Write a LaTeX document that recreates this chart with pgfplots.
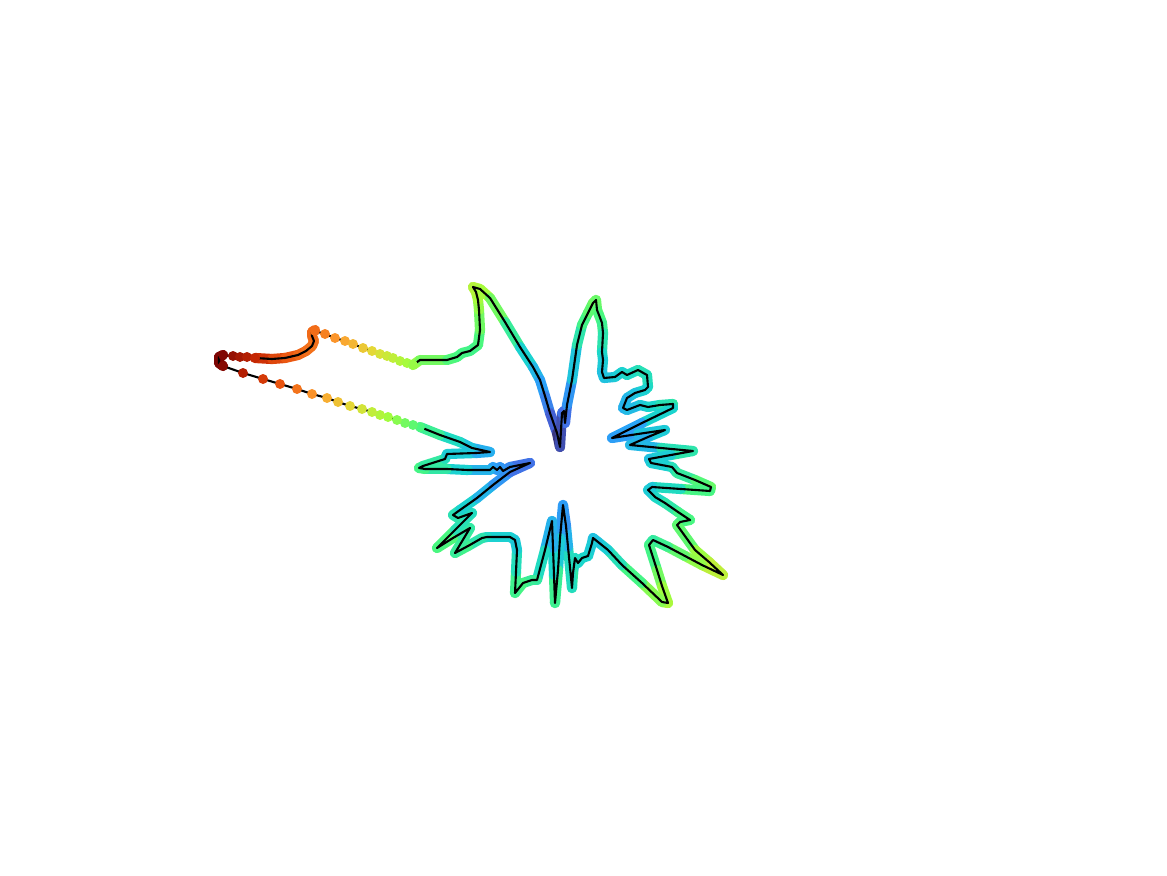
\documentclass[border=0pt]{standalone}
\usepackage{pgfplots}
\usepackage{pgfplotstable}
\pgfplotsset{compat=1.18}

% scan outline, read off in pixel coordinates (y downwards), sensor at (560,455)
% corner (dense)
\pgfplotstableread{
x y
223 366
219 363
219 357
223 355
}\corner
% red stretch, sparse dots
\pgfplotstableread{
x y
223 355
233 356
240 357
247 357
255 358
}\redsparse
% red stretch, dense
\pgfplotstableread{
x y
255 358
272 359
285 358
298 355
306 351
312 346
314 341
312 336
312 332
315 330
}\reddense
% upper wall, sparse dots
\pgfplotstableread{
x y
315 331
325 334
335 338
345 341
353 344
363 348
372 351
380 354
387 356
393 358
400 361
407 363
413 365
}\uppersparse
% main outline, dense
\pgfplotstableread{
x y
413 365
420 360
447 360
457 357
462 353
470 351
478 345
480 330
479 310
478 300
476 292
473 287
480 289
490 298
505 322
520 347
533 367
540 380
545 396
550 413
557 433
560 447
562 413
564 411
565 423
567 405
572 380
577 345
582 325
588 313
593 303
596 300
597 310
599 315
602 323
603 333
602 352
603 360
602 372
604 378
615 377
622 372
627 375
638 370
647 375
648 387
645 390
635 393
627 398
623 408
627 410
640 405
648 407
660 405
673 404
673 408
642 423
612 438
638 434
665 430
648 437
630 445
661 448
693 451
671 455
649 459
651 463
672 467
677 473
695 480
711 487
710 491
681 489
652 487
648 490
655 497
665 503
678 512
690 520
680 522
677 525
695 550
709 562
723 575
702 565
685 556
668 547
653 540
649 545
657 570
662 586
668 603
662 602
642 583
622 565
608 550
598 542
593 538
592 543
588 556
582 558
578 563
575 558
573 573
572 588
568 547
566 526
563 505
560 538
558 570
555 603
554 575
553 548
552 521
545 550
537 580
532 580
523 583
515 593
516 572
517 550
515 540
510 537
487 537
482 538
468 546
455 553
470 528
453 538
437 548
455 530
472 513
458 518
453 515
460 510
477 498
493 485
510 472
530 463
510 467
503 471
500 467
497 470
493 467
490 470
468 470
447 469
425 469
419 468
423 466
445 459
447 454
476 453
490 452
472 448
460 442
440 435
420 427
}\maindense
% lower wall, sparse dots
\pgfplotstableread{
x y
420 427
413 425
405 423
397 420
388 417
380 415
372 412
362 409
350 406
338 402
327 398
312 394
297 389
280 384
263 379
243 373
223 366
}\lowersparse

\begin{document}
\begin{tikzpicture}
\begin{axis}[
    hide axis,
    scale only axis,
    width=11.67cm, height=8.75cm,
    xmin=0, xmax=1167,
    ymin=0, ymax=875,
    y dir=reverse,
    clip=false,
    colormap={turbo}{rgb255=(48,18,59) rgb255=(70,104,226) rgb255=(42,163,248)
        rgb255=(26,214,205) rgb255=(72,247,128) rgb255=(164,252,60)
        rgb255=(226,220,56) rgb255=(253,160,48) rgb255=(238,92,18)
        rgb255=(199,40,3) rgb255=(122,4,3)},
    point meta min=0, point meta max=3.54,
    band/.style={mesh, line width=2.9pt, line cap=round, line join=round,
        point meta={veclen((\thisrow{x}-560)/100,(\thisrow{y}-455)/100)}},
    dots/.style={scatter, only marks, mark=*, mark size=1.2pt,
        scatter/use mapped color={draw=mapped color, fill=mapped color},
        point meta={veclen((\thisrow{x}-560)/100,(\thisrow{y}-455)/100)}},
    outline/.style={black, line width=0.6pt, line join=round, no markers},
]
    % coloured band along the dense parts
    \addplot[band] table {\corner};
    \addplot[band] table {\reddense};
    \addplot[band] table {\maindense};
    % single scan points where they stand apart
    \addplot[dots] table {\redsparse};
    \addplot[dots] table {\uppersparse};
    \addplot[dots] table {\lowersparse};
    % black outline on top
    \addplot[outline] table {\corner};
    \addplot[outline] table {\redsparse};
    \addplot[outline] table {\reddense};
    \addplot[outline] table {\uppersparse};
    \addplot[outline] table {\maindense};
    \addplot[outline] table {\lowersparse};
\end{axis}
\pgfresetboundingbox
\path (current axis.south west) rectangle (current axis.north east);
\end{tikzpicture}
\end{document}
